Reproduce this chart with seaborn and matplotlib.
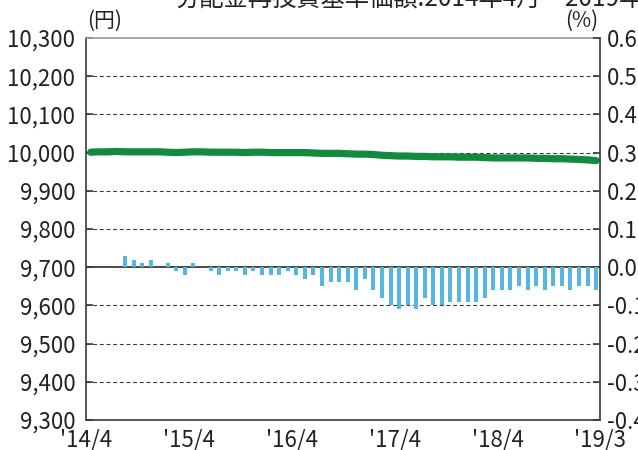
import matplotlib
matplotlib.use("Agg")
import matplotlib.pyplot as plt
import matplotlib.ticker as mticker
import seaborn as sns
import numpy as np


sns.set_style("white")
plt.rcParams["font.family"] = ["Noto Sans CJK JP", "DejaVu Sans"]

# --- data (monthly, 2014/4 .. 2019/3) ---
title = "分配金再投資基準価額:2014年4月～2019年3月"
tick_labels = ["'14/4", "'15/4", "'16/4", "'17/4", "'18/4", "'19/3"]

nav = [
    10001, 10002, 10002, 10003, 10002, 10002, 10002, 10002, 10002, 10001,
    10000, 10001, 10002, 10002, 10001, 10001, 10001, 10001, 10000, 10001,
    10001, 10000, 10000, 10000, 10000, 10000, 9999, 9998, 9998, 9998,
    9997, 9996, 9996, 9995, 9993, 9992, 9991, 9991, 9990, 9990,
    9989, 9989, 9989, 9988, 9988, 9988, 9987, 9986, 9986, 9986,
    9986, 9986, 9985, 9985, 9984, 9984, 9983, 9982, 9981, 9979,
]

rate = [
    0.00, 0.00, 0.00, 0.00, 0.03, 0.02, 0.01, 0.02, 0.00, 0.01,
    -0.01, -0.02, 0.01, 0.00, -0.01, -0.02, -0.01, -0.01, -0.02, -0.01,
    -0.02, -0.02, -0.02, -0.01, -0.02, -0.03, -0.02, -0.05, -0.04, -0.04,
    -0.04, -0.06, -0.03, -0.06, -0.08, -0.10, -0.11, -0.10, -0.11, -0.08,
    -0.10, -0.10, -0.09, -0.09, -0.09, -0.09, -0.08, -0.06, -0.06, -0.06,
    -0.05, -0.06, -0.05, -0.06, -0.05, -0.05, -0.06, -0.05, -0.05, -0.06,
]

months = np.arange(len(nav))

dark = "#3a3a3a"
txt = "#222222"

fig = plt.figure(figsize=(6.38, 4.5), dpi=100)
ax = fig.add_axes([86.4 / 638, 30 / 450, 514 / 638, 382 / 450])
ax2 = ax.twinx()

# bars on the right (%) axis
sns.barplot(x=months, y=rate, native_scale=True, width=0.47,
            color="#55b6e2", saturation=1, linewidth=0, ax=ax2)
ax2.axhline(0, color=dark, lw=1.3, zorder=0)

# NAV line on the left (yen) axis
sns.lineplot(x=months, y=nav, color="#138a3e", lw=5.2, ax=ax,
             solid_capstyle="round")

ax.set_ylim(9300, 10300)
ax.set_yticks(np.arange(9300, 10301, 100))
ax.yaxis.set_major_formatter(mticker.FuncFormatter(lambda v, p: f"{int(round(v)):,}"))
ax2.set_ylim(-0.4, 0.6)
ax2.set_yticks(np.round(np.arange(-0.4, 0.61, 0.1), 1))
ax2.yaxis.set_major_formatter(
    mticker.FuncFormatter(lambda v, p: f"{round(v, 1) + 0.0:.1f}"))

ax.set_xlim(-0.5, 59.5)
ax.set_xticks([-0.5, 11.5, 23.5, 35.5, 47.5, 59.5])
ax.set_xticklabels(tick_labels)

# dashed horizontal grid, except the zero line
for v in np.arange(9400, 10300, 100):
    if v != 9700:
        ax.axhline(v, color=dark, lw=0.8, ls=(0, (3.5, 2.5)), zorder=0)

for a in (ax, ax2):
    a.set_xlabel("")
    a.set_ylabel("")
    a.set_facecolor("none")

ax.tick_params(axis="x", direction="in", length=5, width=0.8, color=dark,
               pad=6, labelsize=16, labelcolor=txt)
ax.tick_params(axis="y", direction="in", length=5, width=1.2, color=dark,
               pad=8, labelsize=16, labelcolor=txt)
ax2.tick_params(axis="y", direction="in", length=5, width=1.2, color=dark,
                pad=5, labelsize=16, labelcolor=txt)

for name, sp in ax.spines.items():
    sp.set_color(dark)
    sp.set_linewidth(1.2)
ax.spines["top"].set_color("#999999")
ax.spines["right"].set_visible(False)
for name, sp in ax2.spines.items():
    sp.set_visible(name == "right")
ax2.spines["right"].set_color(dark)
ax2.spines["right"].set_linewidth(1.2)

fig.text(87 / 638, 1 - 32 / 450, "(円)", fontsize=15, ha="left", va="bottom",
         color=txt)
fig.text(598 / 638, 1 - 32 / 450, "(%)", fontsize=15, ha="right", va="bottom",
         color=txt)
fig.text(175 / 638, 1 - 7 / 450, title, fontsize=17.5, ha="left",
         va="baseline", color=txt)

fig.savefig("out.png", dpi=100)
